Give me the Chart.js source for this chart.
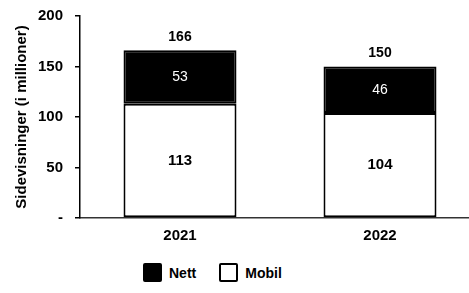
<!DOCTYPE html>
<html>
<head>
<meta charset="utf-8">
<script src="https://cdn.jsdelivr.net/npm/chart.js@4/dist/chart.umd.min.js"></script>
<style>
    body { margin: 0; background: #fff; }
    #wrap { position: relative; width: 469px; height: 293px; overflow: hidden; }
    #chart { position: absolute; left: 0; top: -5px; }
    #legend {
        position: absolute; left: 143px; top: 263px;
        display: flex; align-items: center;
        font: bold 14px "Liberation Sans", Arial, sans-serif; color: #000;
    }
    .legend-item { display: flex; align-items: center; margin-right: 23px; }
    .legend-color { width: 15px; height: 15px; border: 2px solid #000; border-radius: 2px; margin-right: 7px; }
</style>
</head>
<body>
<div id="wrap">
    <canvas id="chart" width="480" height="250"></canvas>
    <div id="legend"></div>
</div>
<script>
// Chart data
const years = ['2021', '2022'];
const mobil = [113, 104];
const nett = [53, 46];
const yTicks = [0, 50, 100, 150, 200];

const FONT = '"Liberation Sans", Arial, sans-serif';

// Draw values inside the segments and totals above the bars
const valueLabels = {
    id: 'valueLabels',
    afterDatasetsDraw(chart) {
        const ctx = chart.ctx;
        ctx.save();
        ctx.textAlign = 'center';
        ctx.textBaseline = 'middle';
        chart.data.datasets.forEach((ds, i) => {
            const meta = chart.getDatasetMeta(i);
            meta.data.forEach((bar, j) => {
                const mid = (bar.y + bar.base) / 2;
                ctx.fillStyle = ds.labelColor;
                ctx.font = ds.labelFont;
                ctx.fillText(ds.data[j], bar.x, mid);
            });
        });
        // totals
        const top = chart.getDatasetMeta(chart.data.datasets.length - 1);
        top.data.forEach((bar, j) => {
            const total = mobil[j] + nett[j];
            ctx.fillStyle = '#000';
            ctx.font = 'bold 14px ' + FONT;
            ctx.fillText(total, bar.x, bar.y - 13);
        });
        ctx.restore();
    }
};

const chart = new Chart(document.getElementById('chart'), {
    type: 'bar',
    data: {
        labels: years,
        datasets: [
            {
                label: 'Mobil',
                data: mobil,
                backgroundColor: '#fff',
                borderColor: '#000',
                borderWidth: 2,
                borderSkipped: false,
                labelColor: '#000',
                labelFont: 'bold 15px ' + FONT
            },
            {
                label: 'Nett',
                data: nett,
                backgroundColor: '#000',
                borderColor: '#000',
                borderWidth: 2,
                borderSkipped: false,
                labelColor: '#fff',
                labelFont: '14px ' + FONT
            }
        ]
    },
    options: {
        responsive: false,
        animation: false,
        layout: { padding: { top: 4, right: 0, left: 0, bottom: 0 } },
        datasets: {
            bar: { barPercentage: 0.565, categoryPercentage: 1 }
        },
        plugins: {
            legend: { display: false },
            tooltip: { enabled: false }
        },
        scales: {
            x: {
                stacked: true,
                grid: { display: false },
                border: { display: true, color: '#333', width: 1.5 },
                ticks: {
                    color: '#000',
                    padding: 1,
                    font: { family: FONT, size: 15, weight: 'bold' }
                },
                afterFit(scale) { scale.height = 27; }
            },
            y: {
                stacked: true,
                min: 0,
                max: 200,
                afterBuildTicks(scale) {
                    scale.ticks = yTicks.map(v => ({ value: v }));
                },
                grid: {
                    drawOnChartArea: false,
                    drawTicks: true,
                    tickLength: 5,
                    color: '#000',
                    lineWidth: 1.5
                },
                border: { display: true, color: '#000', width: 1.5 },
                ticks: {
                    color: '#000',
                    padding: 12,
                    font: { family: FONT, size: 15, weight: 'bold' },
                    callback: v => v === 0 ? '-' : v
                },
                title: {
                    display: true,
                    text: 'Sidevisninger (i millioner)',
                    color: '#000',
                    padding: { top: 13, bottom: 0 },
                    font: { family: FONT, size: 15, weight: 'bold' }
                },
                afterFit(scale) { scale.width = 80; }
            }
        }
    },
    plugins: [valueLabels]
});

// Custom legend: Nett first, then Mobil
function createCustomLegend() {
    const container = document.getElementById('legend');
    container.innerHTML = '';
    chart.data.datasets.slice().reverse().forEach(ds => {
        const item = document.createElement('div');
        item.className = 'legend-item';
        item.innerHTML = `
            <div class="legend-color" style="background-color: ${ds.backgroundColor}"></div>
            <span>${ds.label}</span>
        `;
        container.appendChild(item);
    });
}
createCustomLegend();
</script>
</body>
</html>
